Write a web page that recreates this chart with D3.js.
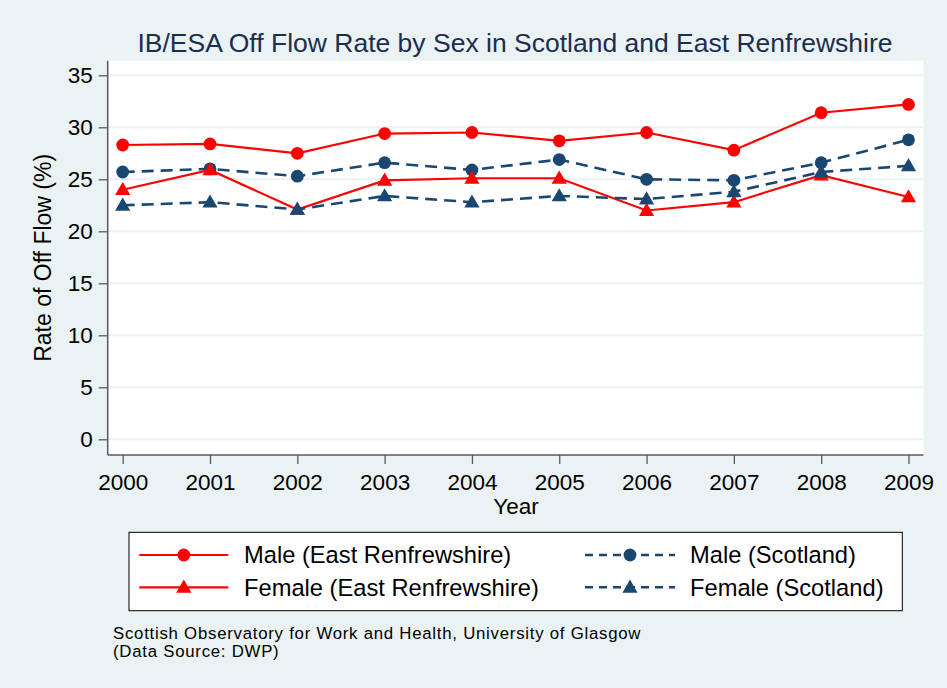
<!DOCTYPE html>
<html>
<head>
<meta charset="utf-8">
<script src="https://cdn.jsdelivr.net/npm/d3@7"></script>
<style>
  html, body { margin: 0; padding: 0; background: #eaf2f3; }
  svg { display: block; font-family: "Liberation Sans", Arial, sans-serif; }
</style>
</head>
<body>
<svg id="chart" width="947" height="688"></svg>
<script>
// ---- data ----
const years = [2000, 2001, 2002, 2003, 2004, 2005, 2006, 2007, 2008, 2009];
const maleER   = [28.3, 28.4, 27.5, 29.4, 29.5, 28.7, 29.5, 27.8, 31.4, 32.2];
const maleSc   = [25.7, 26.0, 25.3, 26.6, 25.9, 26.9, 25.0, 24.9, 26.6, 28.8];
const femaleER = [24.0, 25.9, 22.1, 24.9, 25.1, 25.1, 22.0, 22.8, 25.4, 23.3];
const femaleSc = [22.5, 22.8, 22.1, 23.4, 22.8, 23.4, 23.1, 23.8, 25.7, 26.3];
const yTicks = [0, 5, 10, 15, 20, 25, 30, 35];
const seriesNames = ["Male (East Renfrewshire)", "Male (Scotland)", "Female (East Renfrewshire)", "Female (Scotland)"];
const titleText = "IB/ESA Off Flow Rate by Sex in Scotland and East Renfrewshire";
const yTitle = "Rate of Off Flow (%)";
const xTitle = "Year";
const notes = ["Scottish Observatory for Work and Health, University of Glasgow", "(Data Source: DWP)"];

// ---- styles ----
const RED = "#ff0000", NAVY = "#1a476f";
const series = [
  { name: seriesNames[0], values: maleER,   color: RED,  dash: null,   symbol: "circle" },
  { name: seriesNames[1], values: maleSc,   color: NAVY, dash: "12,7", symbol: "circle" },
  { name: seriesNames[2], values: femaleER, color: RED,  dash: null,   symbol: "triangle" },
  { name: seriesNames[3], values: femaleSc, color: NAVY, dash: "12,7", symbol: "triangle" }
];

const svg = d3.select("#chart");
svg.append("rect").attr("width", 947).attr("height", 688).attr("fill", "#eaf2f3");

const plot = { left: 107.7, right: 923.5, top: 60.7, bottom: 455 };
const x = d3.scaleLinear().domain([2000, 2009]).range([122.7, 908.5]);
const y = d3.scaleLinear().domain([0, 35]).range([439.3, 75.3]);

// plot area
svg.append("rect")
  .attr("x", plot.left).attr("y", plot.top)
  .attr("width", plot.right - plot.left).attr("height", plot.bottom - plot.top)
  .attr("fill", "#ffffff");

// gridlines
svg.append("g").selectAll("line").data(yTicks).join("line")
  .attr("x1", plot.left).attr("x2", plot.right)
  .attr("y1", d => y(d)).attr("y2", d => y(d))
  .attr("stroke", "#eaf2f3").attr("stroke-width", 2);

// y axis
const yAxis = svg.append("g")
  .attr("transform", `translate(${plot.left},0)`)
  .call(d3.axisLeft(y).tickValues(yTicks).tickSize(9).tickPadding(6).tickSizeOuter(0));
yAxis.select(".domain").remove();
svg.append("line").attr("x1", plot.left).attr("x2", plot.left)
  .attr("y1", plot.top).attr("y2", plot.bottom)
  .attr("stroke", "#5a5a5a").attr("stroke-width", 1.5);
yAxis.selectAll(".tick line").attr("stroke", "#5a5a5a").attr("stroke-width", 1.3);
yAxis.selectAll(".tick text").attr("font-size", 22.5).attr("fill", "#000")
  .attr("font-family", "'Liberation Sans', Arial, sans-serif");

// x axis
const xAxis = svg.append("g")
  .attr("transform", `translate(0,${plot.bottom})`)
  .call(d3.axisBottom(x).tickValues(years).tickFormat(d3.format("d")).tickSize(9).tickPadding(10).tickSizeOuter(0));
xAxis.select(".domain").remove();
svg.append("line").attr("x1", plot.left).attr("x2", plot.right)
  .attr("y1", plot.bottom).attr("y2", plot.bottom)
  .attr("stroke", "#5a5a5a").attr("stroke-width", 1.5);
xAxis.selectAll(".tick line").attr("stroke", "#5a5a5a").attr("stroke-width", 1.3);
xAxis.selectAll(".tick text").attr("font-size", 22.5).attr("fill", "#000")
  .attr("font-family", "'Liberation Sans', Arial, sans-serif");

// symbols
const circleSym = d3.symbol().type(d3.symbolCircle).size(Math.PI * 6.4 * 6.4);
const triSym = d3.symbol().type(d3.symbolTriangle).size(100);

const line = d3.line().x((d, i) => x(years[i])).y(d => y(d));

series.forEach(s => {
  const g = svg.append("g");
  g.append("path").attr("d", line(s.values))
    .attr("fill", "none").attr("stroke", s.color)
    .attr("stroke-width", s.dash ? 2.6 : 2.2)
    .attr("stroke-dasharray", s.dash);
  g.selectAll("path.m").data(s.values).join("path").attr("class", "m")
    .attr("d", s.symbol === "circle" ? circleSym() : triSym())
    .attr("transform", (d, i) => `translate(${x(years[i])},${y(d) + (s.symbol === "triangle" ? 1 : 0)})`)
    .attr("fill", s.color);
});

// title
svg.append("text").attr("x", 515).attr("y", 51.7).attr("text-anchor", "middle")
  .attr("font-size", 26.5).attr("fill", "#1c2d52").text(titleText);

// axis titles
svg.append("text").attr("transform", `translate(51,${(plot.top + plot.bottom) / 2}) rotate(-90)`)
  .attr("text-anchor", "middle").attr("font-size", 23).attr("fill", "#000").text(yTitle);
svg.append("text").attr("x", 516).attr("y", 514).attr("text-anchor", "middle")
  .attr("font-size", 22.5).attr("fill", "#000").text(xTitle);

// legend
const leg = svg.append("g");
leg.append("rect").attr("x", 129).attr("y", 532.3).attr("width", 773.3).attr("height", 78.4)
  .attr("fill", "#ffffff").attr("stroke", "#000").attr("stroke-width", 1);
const legPos = [
  { x0: 139.3, x1: 228.3, tx: 244, y: 555 },
  { x0: 585, x1: 675, tx: 690, y: 555 },
  { x0: 139.3, x1: 228.3, tx: 244, y: 587.3 },
  { x0: 585, x1: 675, tx: 690, y: 587.3 }
];
series.forEach((s, i) => {
  const p = legPos[i];
  leg.append("line").attr("x1", p.x0).attr("x2", p.x1).attr("y1", p.y).attr("y2", p.y)
    .attr("stroke", s.color).attr("stroke-width", s.dash ? 2.6 : 2.2)
    .attr("stroke-dasharray", s.dash ? "8,6" : null);
  leg.append("path")
    .attr("d", s.symbol === "circle" ? circleSym() : triSym())
    .attr("transform", `translate(${(p.x0 + p.x1) / 2},${p.y + (s.symbol === "triangle" ? 1 : 0)})`)
    .attr("fill", s.color);
  leg.append("text").attr("x", p.tx).attr("y", p.y + 8.3)
    .attr("font-size", 23.7).attr("fill", "#000").text(s.name);
});

// notes
svg.append("g").selectAll("text").data(notes).join("text")
  .attr("x", 113).attr("y", (d, i) => 638.5 + i * 18.5)
  .attr("font-size", 16.8).attr("letter-spacing", 0.75).attr("fill", "#000").text(d => d);
</script>
</body>
</html>
